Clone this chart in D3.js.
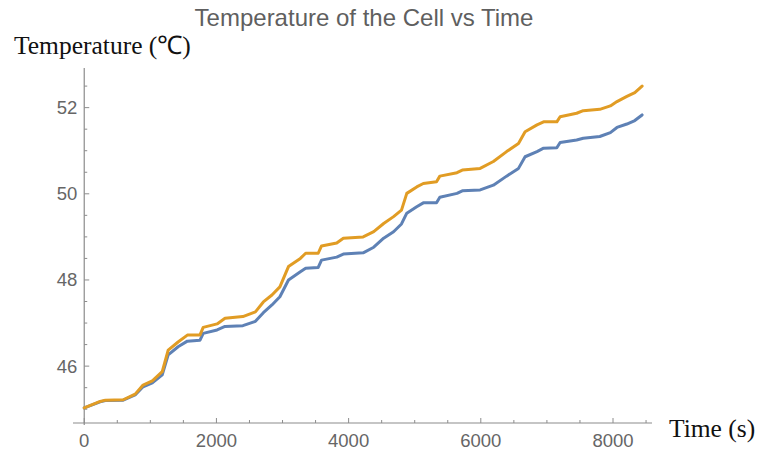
<!DOCTYPE html>
<html>
<head>
<meta charset="utf-8">
<script src="https://cdn.jsdelivr.net/npm/d3@7"></script>
<style>
  html, body { margin: 0; padding: 0; background: #fff; }
  svg { display: block; }
</style>
</head>
<body>
<svg id="chart" width="757" height="452"></svg>
<script>
// Cell temperature readings (°C) over time (s)
const times = [0, 240, 320, 590, 770, 890, 1030, 1180, 1270, 1420, 1560, 1750, 1800, 2010, 2130,
  2400, 2590, 2710, 2840, 2960, 3090, 3270, 3350, 3540, 3590, 3820, 3920, 4220, 4380, 4530,
  4680, 4800, 4880, 5030, 5130, 5330, 5380, 5640, 5720, 5990, 6190, 6390, 6570, 6670, 6850,
  6950, 7150, 7200, 7450, 7550, 7800, 7960, 8060, 8210, 8330, 8440];

const tempBlue = [45.03, 45.17, 45.20, 45.21, 45.33, 45.52, 45.61, 45.80, 46.26, 46.45, 46.58, 46.60,
  46.76, 46.84, 46.92, 46.94, 47.04, 47.24, 47.42, 47.61, 48.00, 48.19, 48.27, 48.29, 48.46, 48.53,
  48.60, 48.63, 48.76, 48.97, 49.12, 49.30, 49.55, 49.70, 49.79, 49.79, 49.92, 50.01, 50.07, 50.09,
  50.20, 50.41, 50.59, 50.86, 50.98, 51.06, 51.07, 51.19, 51.25, 51.29, 51.33, 51.42, 51.54, 51.62,
  51.70, 51.83];

const tempOrange = [45.03, 45.18, 45.21, 45.22, 45.35, 45.56, 45.66, 45.87, 46.37, 46.56, 46.72, 46.72,
  46.90, 46.98, 47.11, 47.15, 47.26, 47.49, 47.65, 47.84, 48.31, 48.50, 48.62, 48.62, 48.79, 48.86,
  48.97, 49.00, 49.12, 49.31, 49.47, 49.62, 50.01, 50.16, 50.24, 50.28, 50.41, 50.49, 50.55, 50.59,
  50.75, 50.98, 51.17, 51.44, 51.60, 51.67, 51.67, 51.79, 51.87, 51.93, 51.96, 52.04, 52.14, 52.26,
  52.35, 52.50];

const xMajorTicks = [0, 2000, 4000, 6000, 8000];
const yMajorTicks = [46, 48, 50, 52];

const title = "Temperature of the Cell vs Time";
const yLabel = "Temperature (℃)";
const xLabel = "Time (s)";

const svg = d3.select("#chart");

const x = d3.scaleLinear().domain([-170, 8590]).range([73, 652]);
const y = d3.scaleLinear().domain([44.68, 52.92]).range([423, 68]);

const axisColor = "#8c8c8c";
const labelColor = "#666666";

// Minor ticks every 500 s and 0.5 °C
const xMinor = d3.range(500, 8600, 500).filter(v => v % 2000 !== 0);
const yMinor = d3.range(45, 52.6, 0.5).filter(v => Math.abs(v % 2) > 1e-9);

const g = svg.append("g");

// x axis line
g.append("line")
  .attr("x1", x(-170)).attr("x2", x(8590))
  .attr("y1", y(44.68)).attr("y2", y(44.68))
  .attr("stroke", axisColor).attr("stroke-width", 1.2);

// y axis line
g.append("line")
  .attr("x1", x(0)).attr("x2", x(0))
  .attr("y1", y(52.92)).attr("y2", y(44.68) + 2)
  .attr("stroke", axisColor).attr("stroke-width", 1.2);

// x ticks (pointing into the plot)
g.selectAll(".xmaj").data(xMajorTicks).enter().append("line")
  .attr("x1", d => x(d)).attr("x2", d => x(d))
  .attr("y1", y(44.68)).attr("y2", y(44.68) - 5)
  .attr("stroke", axisColor);
g.selectAll(".xmin").data(xMinor).enter().append("line")
  .attr("x1", d => x(d)).attr("x2", d => x(d))
  .attr("y1", y(44.68)).attr("y2", y(44.68) - 3)
  .attr("stroke", axisColor);

// y ticks
g.selectAll(".ymaj").data(yMajorTicks).enter().append("line")
  .attr("x1", x(0)).attr("x2", x(0) + 5)
  .attr("y1", d => y(d)).attr("y2", d => y(d))
  .attr("stroke", axisColor);
g.selectAll(".ymin").data(yMinor).enter().append("line")
  .attr("x1", x(0)).attr("x2", x(0) + 3)
  .attr("y1", d => y(d)).attr("y2", d => y(d))
  .attr("stroke", axisColor);

// tick labels
g.selectAll(".xlab").data(xMajorTicks).enter().append("text")
  .attr("x", d => x(d)).attr("y", 447)
  .attr("text-anchor", "middle")
  .attr("font-family", "Liberation Sans, Arial, sans-serif")
  .attr("font-size", 18.5)
  .attr("fill", labelColor)
  .text(d => d);

g.selectAll(".ylab").data(yMajorTicks).enter().append("text")
  .attr("x", x(0) - 7).attr("y", d => y(d))
  .attr("dy", "0.35em")
  .attr("text-anchor", "end")
  .attr("font-family", "Liberation Sans, Arial, sans-serif")
  .attr("font-size", 18.5)
  .attr("fill", labelColor)
  .text(d => d);

// series lines
const line = d3.line()
  .x((d, i) => x(times[i]))
  .y(d => y(d));

svg.append("path")
  .datum(tempBlue)
  .attr("d", line)
  .attr("fill", "none")
  .attr("stroke", "#5E81B5")
  .attr("stroke-width", 3)
  .attr("stroke-linejoin", "round")
  .attr("stroke-linecap", "round");

svg.append("path")
  .datum(tempOrange)
  .attr("d", line)
  .attr("fill", "none")
  .attr("stroke", "#E19C24")
  .attr("stroke-width", 3)
  .attr("stroke-linejoin", "round")
  .attr("stroke-linecap", "round");

// title and axis labels
svg.append("text")
  .attr("x", 364).attr("y", 26)
  .attr("text-anchor", "middle")
  .attr("font-family", "Liberation Sans, Arial, sans-serif")
  .attr("font-size", 24)
  .attr("fill", "#5f5f5f")
  .text(title);

svg.append("text")
  .attr("x", 14).attr("y", 54)
  .attr("font-family", "Liberation Serif, Times New Roman, serif")
  .attr("font-size", 25.5)
  .attr("fill", "#111")
  .text(yLabel);

svg.append("text")
  .attr("x", 669).attr("y", 437)
  .attr("font-family", "Liberation Serif, Times New Roman, serif")
  .attr("font-size", 25.5)
  .attr("fill", "#111")
  .text(xLabel);
</script>
</body>
</html>
